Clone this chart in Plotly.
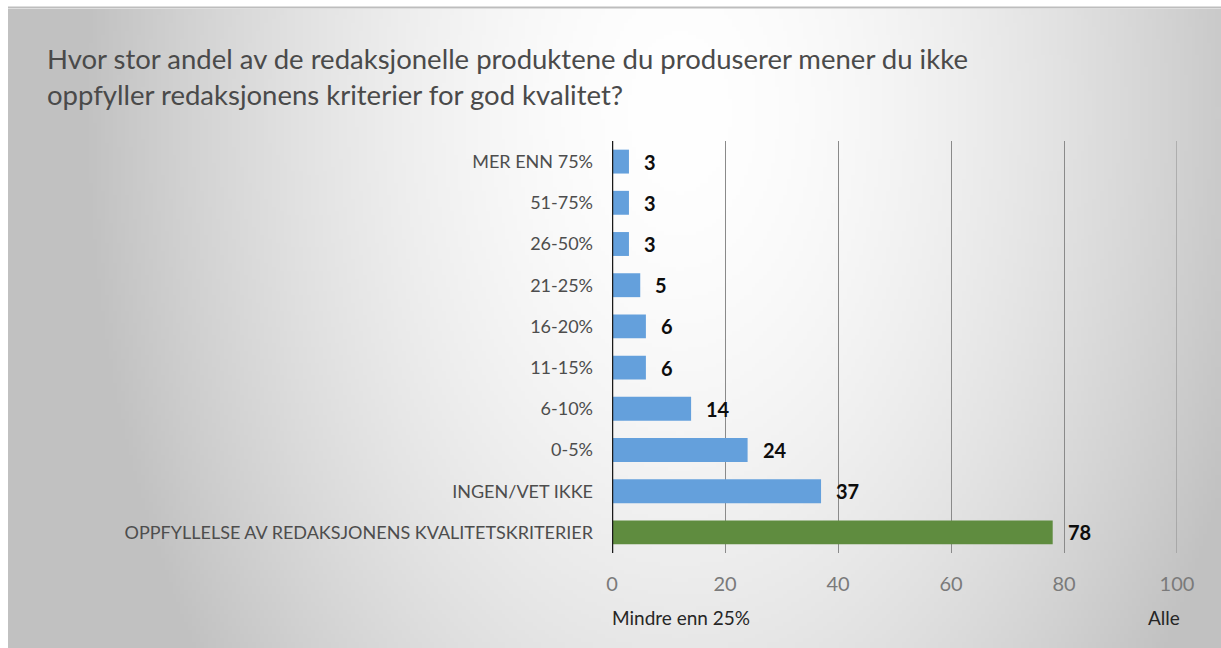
import base64
import struct
import zlib

import numpy as np
import plotly.graph_objects as go

# Survey answers, listed top to bottom
categories = [
    "MER ENN 75%",
    "51-75%",
    "26-50%",
    "21-25%",
    "16-20%",
    "11-15%",
    "6-10%",
    "0-5%",
    "INGEN/VET IKKE",
    "OPPFYLLELSE AV REDAKSJONENS KVALITETSKRITERIER",
]
values = [3, 3, 3, 5, 6, 6, 14, 24, 37, 78]
bar_colors = ["#64a0dc"] * 9 + ["#5f8c3f"]

x_ticks = [0, 20, 40, 60, 80, 100]
title_text = ("Hvor stor andel av de redaksjonelle produktene du produserer mener du ikke"
              "<br>oppfyller redaksjonens kriterier for god kvalitet?")
scale_low_label = "Mindre enn 25%"
scale_high_label = "Alle"

W, H = 1221, 648
M_L, M_R, M_T, M_B = 612, 44, 141, 95
PW, PH = W - M_L - M_R, H - M_T - M_B


def gradient_png(w, h):
    """Grayscale radial gradient (white near top centre, grey toward edges) as a PNG data URI."""
    ys, xs = np.mgrid[0:h, 0:w]
    fx = xs / (w - 1) * (W - 8) + 8
    fy = ys / (h - 1) * (H - 8) + 8
    t = np.sqrt(((fx - 680) / 600.0) ** 2 + ((fy - 110) / 950.0) ** 2)
    t = np.clip(t, 0, 1)
    g = (255 - 62 * t ** 1.7).astype(np.uint8)
    raw = b"".join(b"\x00" + row.tobytes() for row in g)

    def chunk(tag, data):
        c = struct.pack(">I", len(data)) + tag + data
        return c + struct.pack(">I", zlib.crc32(tag + data) & 0xFFFFFFFF)

    png = (b"\x89PNG\r\n\x1a\n"
           + chunk(b"IHDR", struct.pack(">IIBBBBB", w, h, 8, 0, 0, 0, 0))
           + chunk(b"IDAT", zlib.compress(raw, 9))
           + chunk(b"IEND", b""))
    return "data:image/png;base64," + base64.b64encode(png).decode()


def px_to_paper_x(px):
    return (px - M_L) / PW


def px_to_paper_y(py):
    return (H - M_B - py) / PH


FONT = "Lato, 'Open Sans', sans-serif"

fig = go.Figure(
    go.Bar(
        x=values,
        y=categories,
        orientation="h",
        marker=dict(color=bar_colors, line=dict(width=0)),
        width=0.58,
        hoverinfo="x+y",
    )
)

# Value labels just past the end of each bar
for cat, val in zip(categories, values):
    fig.add_annotation(
        x=val, y=cat, xref="x", yref="y",
        text=str(val), showarrow=False,
        xanchor="left", yanchor="middle", xshift=13,
        font=dict(family=FONT, size=20, color="#0d0d0d", weight="bold"),
    )

# Scale end descriptions under the axis
fig.add_annotation(
    x=0, y=px_to_paper_y(617), xref="x", yref="paper",
    text=scale_low_label, showarrow=False, xanchor="left", yanchor="middle", xshift=-2,
    font=dict(family=FONT, size=19, color="#262626"),
)
fig.add_annotation(
    x=100, y=px_to_paper_y(617), xref="x", yref="paper",
    text=scale_high_label, showarrow=False, xanchor="right", yanchor="middle", xshift=5,
    font=dict(family=FONT, size=19, color="#262626"),
)

# Thin frame line along the top edge
fig.add_shape(
    type="line", xref="paper", yref="paper",
    x0=px_to_paper_x(8), x1=px_to_paper_x(W), y0=px_to_paper_y(7.5), y1=px_to_paper_y(7.5),
    line=dict(color="#bdbdbd", width=2), layer="below",
)

fig.add_layout_image(
    source=gradient_png(306, 160),
    xref="paper", yref="paper",
    x=px_to_paper_x(8), y=px_to_paper_y(9),
    sizex=(W - 8) / PW, sizey=(H - 9) / PH,
    xanchor="left", yanchor="top", sizing="stretch", layer="below",
)

fig.update_layout(
    width=W, height=H,
    margin=dict(l=M_L, r=M_R, t=M_T, b=M_B, pad=0),
    paper_bgcolor="white",
    plot_bgcolor="rgba(0,0,0,0)",
    showlegend=False,
    title=dict(
        text=title_text,
        x=47 / W, xanchor="left", xref="container",
        y=1 - 69 / H, yanchor="top", yref="container",
        font=dict(family=FONT, size=27.5, color="#4a4a4a"),
    ),
    xaxis=dict(
        range=[0, 100],
        tickvals=x_ticks,
        showgrid=True, gridcolor="#8a8a8a", gridwidth=1,
        zeroline=False,
        showline=False,
        ticks="",
        ticklabelstandoff=17,
        tickfont=dict(family=FONT, size=20, color="#7a7a7a"),
        fixedrange=True,
    ),
    yaxis=dict(
        type="category",
        categoryorder="array", categoryarray=categories,
        autorange="reversed",
        showgrid=False, zeroline=False,
        showline=False,
        ticks="",
        ticklabelstandoff=18,
        tickfont=dict(family=FONT, size=18, color="#4d4d4d"),
        fixedrange=True,
    ),
)

# Gridline at the right end of the value axis (not drawn by the axis at its range edge)
fig.add_shape(
    type="line", xref="x", yref="paper", x0=100, x1=100, y0=0, y1=1,
    line=dict(color="#8a8a8a", width=1), layer="below",
)

# Dark baseline at zero on the value axis
fig.add_shape(
    type="line", xref="x", yref="paper", x0=0, x1=0, y0=0, y1=1,
    line=dict(color="#1a1a1a", width=2.5), layer="above",
)

fig.write_html("out.html")
